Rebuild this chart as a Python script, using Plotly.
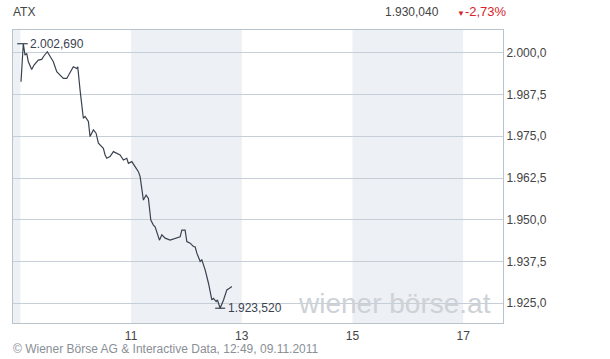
import plotly.graph_objects as go

# Intraday ATX, hours (decimal) and index values
times = [9.011, 9.052, 9.083, 9.114, 9.143, 9.204, 9.246, 9.323, 9.385, 9.414,
         9.486, 9.535, 9.595, 9.656, 9.716, 9.776, 9.837, 9.897, 9.956, 10.018,
         10.036, 10.078, 10.137, 10.168, 10.228, 10.258, 10.318, 10.367, 10.409, 10.499,
         10.53, 10.56, 10.62, 10.68, 10.74,
         10.801, 10.861, 10.922, 10.951, 11.013, 11.072, 11.132, 11.163, 11.193, 11.222,
         11.271, 11.313, 11.356, 11.403, 11.434, 11.475, 11.512, 11.555, 11.615, 11.705,
         11.795, 11.886, 11.917, 11.976, 12.007, 12.067, 12.126,
         12.157, 12.188, 12.248, 12.278, 12.338, 12.398, 12.459, 12.488, 12.537, 12.560,
         12.609, 12.670, 12.730, 12.777, 12.821]
values = [1991.3, 2002.69, 1999.3, 1999.8, 1997.3, 1995.0, 1996.3, 1997.8, 1998.0, 1998.8,
          2000.3, 1998.8, 1997.3, 1994.3, 1993.3, 1992.3, 1992.3, 1994.3, 1995.8, 1995.3,
          1995.8, 1988.8, 1980.4, 1980.9, 1979.4, 1974.9, 1976.9, 1975.9, 1972.9, 1971.4,
          1969.4, 1968.4, 1968.9, 1970.4, 1969.9,
          1969.4, 1967.9, 1968.4, 1966.9, 1967.4, 1965.9, 1964.4, 1962.9, 1958.9, 1955.9,
          1957.4, 1956.4, 1949.9, 1948.4, 1947.9, 1945.9, 1943.9, 1945.5, 1944.5, 1943.9,
          1944.5, 1944.9, 1946.9, 1946.9, 1943.5, 1943.0, 1942.0,
          1941.9, 1940.0, 1937.5, 1938.0, 1935.0, 1931.0, 1926.0, 1926.5, 1925.5, 1926.0,
          1923.52, 1926.0, 1929.0, 1929.5, 1930.04]

y_ticks = [1925.0, 1937.5, 1950.0, 1962.5, 1975.0, 1987.5, 2000.0]
x_ticks = [11, 13, 15, 17]
bands = [(7, 9), (11, 13), (15, 17)]
x_range = [8.866, 17.72]
y_range = [1919.1, 2006.8]

max_i = values.index(max(values))
min_i = values.index(min(values))

fig = go.Figure()
fig.add_trace(go.Scatter(x=times, y=values, mode="lines",
                         line=dict(color="#3a4250", width=1.2), hoverinfo="skip"))

shapes = []
for a, b in bands:
    shapes.append(dict(type="rect", xref="x", yref="paper", x0=max(a, x_range[0]), x1=b,
                       y0=0, y1=1, fillcolor="#edf0f4", line=dict(width=0), layer="below"))
# max / min markers
shapes.append(dict(type="line", xref="x", yref="y", x0=times[max_i] - 0.11, x1=times[max_i] + 0.08,
                   y0=values[max_i], y1=values[max_i], line=dict(color="#3a4250", width=1.2)))
shapes.append(dict(type="line", xref="x", yref="y", x0=times[min_i] - 0.09, x1=times[min_i] + 0.09,
                   y0=values[min_i], y1=values[min_i], line=dict(color="#3a4250", width=1.2)))

annotations = [
    dict(xref="paper", yref="paper", x=(394.5 - 13) / 490, y=20 / 293, text="wiener börse.at",
         showarrow=False, xanchor="center", yanchor="middle",
         font=dict(size=28, color="#cdd2d7", family="Liberation Sans, Arial")),
    dict(xref="x", yref="y", x=times[max_i] + 0.09, y=values[max_i], text="2.002,690",
         showarrow=False, xanchor="left", yanchor="middle",
         font=dict(size=12, color="#3a4250")),
    dict(xref="x", yref="y", x=times[min_i] + 0.10, y=values[min_i], text="1.923,520",
         showarrow=False, xanchor="left", yanchor="middle",
         font=dict(size=12, color="#3a4250")),
    dict(xref="paper", yref="paper", x=-2 / 490, y=1 + 18 / 293, text="ATX",
         showarrow=False, xanchor="left", yanchor="middle",
         font=dict(size=12, color="#444")),
    dict(xref="paper", yref="paper", x=(441 - 13) / 490, y=1 + 18 / 293, text="1.930,040",
         showarrow=False, xanchor="right", yanchor="middle",
         font=dict(size=12, color="#444")),
    dict(xref="paper", yref="paper", x=(455 - 13) / 490, y=1 + 18 / 293,
         text="<span style='font-size:8px'>▼</span>-2,73%",
         showarrow=False, xanchor="left", yanchor="middle",
         font=dict(size=13, color="#d8232a")),
    dict(xref="paper", yref="paper", x=-2 / 490, y=-(349 - 323) / 293,
         text="© Wiener Börse AG &amp; Interactive Data, 12:49, 09.11.2011",
         showarrow=False, xanchor="left", yanchor="middle",
         font=dict(size=12, color="#8a8f96")),
]

fig.update_layout(
    width=610, height=359,
    margin=dict(l=13, r=107, t=30, b=36),
    paper_bgcolor="white", plot_bgcolor="white",
    showlegend=False,
    separators=",.",
    font=dict(family="Liberation Sans, Arial, sans-serif", size=12, color="#444"),
    shapes=shapes, annotations=annotations,
    xaxis=dict(range=x_range, tickvals=x_ticks, ticktext=[str(t) for t in x_ticks],
               showgrid=False, zeroline=False, showline=True, mirror=True,
               linecolor="#b9c3cc", linewidth=1, ticks="", ticklabelstandoff=2,
               tickfont=dict(size=12, color="#444")),
    yaxis=dict(range=y_range, tickvals=y_ticks, tickformat=",.1f", side="right",
               showgrid=True, gridcolor="#c6cfd8", gridwidth=1, zeroline=False,
               showline=True, mirror=True, linecolor="#b9c3cc", linewidth=1,
               ticks="", tickfont=dict(size=12, color="#444")),
)

fig.write_html("out.html")
